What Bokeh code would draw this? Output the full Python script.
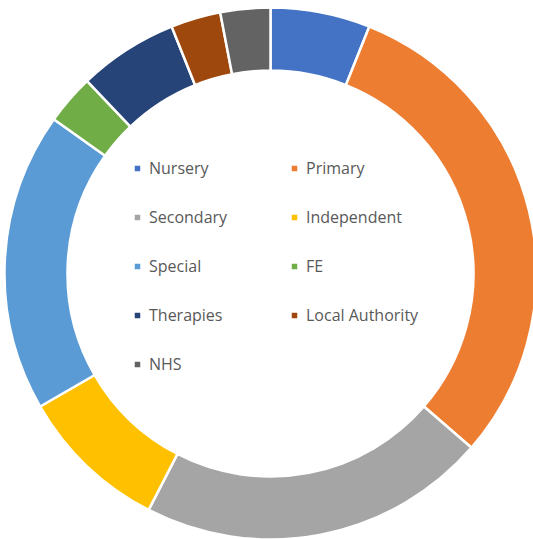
import math
from bokeh.plotting import figure
from bokeh.models import ColumnDataSource, Range1d, Legend, LegendItem
from bokeh.embed import file_html
from bokeh.resources import INLINE

categories = ["Nursery", "Primary", "Secondary", "Independent", "Special", "FE",
              "Therapies", "Local Authority", "NHS"]
values = [2, 10, 7, 3, 6, 1, 2, 1, 1]
colors = ["#4472C4", "#ED7D31", "#A5A5A5", "#FFC000", "#5B9BD5", "#70AD47",
          "#264478", "#9E480E", "#636363"]

total = sum(values)
starts, ends = [], []
cum = 0.0
for v in values:
    a0 = cum / total * 2 * math.pi
    cum += v
    a1 = cum / total * 2 * math.pi
    # clockwise from 12 o'clock
    starts.append(math.pi / 2 - a1)
    ends.append(math.pi / 2 - a0)

W, H = 533, 539
cx, cy = 270, H - 273
src = ColumnDataSource(dict(cat=categories, val=values, color=colors,
                            start=starts, end=ends,
                            x=[cx] * len(values), y=[cy] * len(values)))

p = figure(width=W, height=H, output_backend="svg", toolbar_location=None,
           x_range=Range1d(0, W), y_range=Range1d(0, H),
           min_border=0, outline_line_color=None)
p.axis.visible = False
p.grid.visible = False
p.background_fill_color = "white"
p.border_fill_color = "white"

r = p.annular_wedge(x="x", y="y", inner_radius=203, outer_radius=266,
                    start_angle="start", end_angle="end",
                    fill_color="color", line_color="white", line_width=2.5,
                    source=src)

# legend is filled column by column: order items so it reads row by row
n = len(categories)
order = list(range(0, n, 2)) + list(range(1, n, 2))
items = [LegendItem(label=categories[i], renderers=[r], index=i) for i in order]
legend = Legend(items=items, ncols=2, location=(132, 164),
                glyph_width=10, glyph_height=10, label_standoff=7,
                label_width=113, label_height=20, spacing=27,
                padding=0, margin=0, border_line_color=None,
                background_fill_alpha=0,
                label_text_font="Open Sans", label_text_font_size="16px",
                label_text_color="#595959")
p.add_layout(legend, "center")

open("out.html", "w").write(file_html(p, INLINE))
